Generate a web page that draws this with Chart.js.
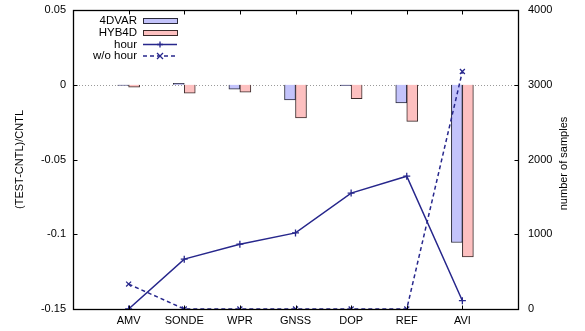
<!DOCTYPE html>
<html>
<head>
<meta charset="utf-8">
<script src="https://cdn.jsdelivr.net/npm/chart.js@4.4.1/dist/chart.umd.min.js"></script>
<style>
  html, body { margin: 0; padding: 0; background: #fff; }
  #chart { display: block; }
</style>
</head>
<body>
<canvas id="chart" width="585" height="331"></canvas>
<script>
// empty slots at both ends give the gnuplot-style margin
const categories = ['', 'AMV', 'SONDE', 'WPR', 'GNSS', 'DOP', 'REF', 'AVI', ''];
const var4d = [null, -0.0004, 0.0009, -0.003, -0.0101, -0.0006, -0.0122, -0.1055, null];
const hyb4d = [null, -0.0017, -0.0056, -0.0049, -0.0222, -0.0093, -0.0245, -0.1151, null];
const hourSamples = [null, 0, 667, 867, 1018, 1551, 1777, 111, null];
const noHourSamples = [null, 333, 0, 0, 0, 0, 0, 3177, null];
const leftTicks = [0.05, 0, -0.05, -0.1, -0.15];
const rightTicks = [0, 1000, 2000, 3000, 4000];

const FONT = 'Liberation Sans';
const NAVY = '#27278c';

const framePlugin = {
    id: 'frame',
    beforeDatasetsDraw(chart) {
        const { ctx, chartArea: a, scales } = chart;
        const y0 = Math.round(scales.y.getPixelForValue(0)) + 0.5;
        ctx.save();
        ctx.strokeStyle = '#9a9a9a';
        ctx.lineWidth = 1;
        ctx.setLineDash([1, 2]);
        ctx.beginPath();
        ctx.moveTo(a.left, y0);
        ctx.lineTo(a.right, y0);
        ctx.stroke();
        ctx.restore();
    },
    afterDraw(chart) {
        const { ctx, chartArea: a, scales } = chart;
        const L = Math.round(a.left) + 0.5, R = Math.round(a.right) + 0.5;
        const T = Math.round(a.top) + 0.5, B = Math.round(a.bottom) + 0.5;
        const tick = 4;
        ctx.save();
        ctx.strokeStyle = '#000';
        ctx.lineWidth = 1;

        // inward tick marks
        ctx.beginPath();
        for (let i = 1; i < categories.length - 1; i++) {
            const x = Math.round(scales.x.getPixelForValue(i)) + 0.5;
            ctx.moveTo(x, B); ctx.lineTo(x, B - tick);
            ctx.moveTo(x, T); ctx.lineTo(x, T + tick);
        }
        leftTicks.forEach(v => {
            const y = Math.round(scales.y.getPixelForValue(v)) + 0.5;
            ctx.moveTo(L, y); ctx.lineTo(L + tick, y);
        });
        rightTicks.forEach(v => {
            const y = Math.round(scales.y2.getPixelForValue(v)) + 0.5;
            ctx.moveTo(R, y); ctx.lineTo(R - tick, y);
        });
        ctx.stroke();

        ctx.lineWidth = 1.3;
        ctx.strokeRect(L, T, R - L, B - T);

        // axis titles
        ctx.fillStyle = '#000';
        ctx.font = `11px "${FONT}"`;
        ctx.textAlign = 'center';
        ctx.textBaseline = 'middle';
        const midY = (a.top + a.bottom) / 2;
        ctx.save();
        ctx.translate(20, midY);
        ctx.rotate(-Math.PI / 2);
        ctx.fillText('(TEST-CNTL)/CNTL', 0, 0);
        ctx.restore();
        ctx.save();
        ctx.translate(564, midY + 4);
        ctx.rotate(-Math.PI / 2);
        ctx.fillText('number of samples', 0, 0);
        ctx.restore();

        // legend, text right aligned with the sample on its right
        const ds = chart.data.datasets;
        const textRight = 137, sx0 = 143, sx1 = 177, rows = [21, 33, 44.5, 56];
        ctx.font = `11.5px "${FONT}"`;
        ctx.textAlign = 'right';
        ds.forEach((d, i) => {
            const y = rows[i];
            ctx.fillStyle = '#000';
            ctx.fillText(d.label, textRight, y);
            if (d.type === 'bar') {
                ctx.fillStyle = d.backgroundColor;
                ctx.fillRect(sx0, y - 2.5, sx1 - sx0, 5);
                ctx.strokeStyle = d.borderColor;
                ctx.lineWidth = 1;
                ctx.strokeRect(sx0 + 0.5, Math.round(y - 3) + 0.5, sx1 - sx0, 5);
            } else {
                ctx.strokeStyle = d.borderColor;
                ctx.lineWidth = d.borderWidth;
                ctx.setLineDash(d.borderDash || []);
                ctx.beginPath();
                ctx.moveTo(sx0, y); ctx.lineTo(sx1, y);
                ctx.stroke();
                ctx.setLineDash([]);
                const cx = (sx0 + sx1) / 2, r = 3;
                ctx.lineWidth = 1.3;
                ctx.beginPath();
                if (d.pointStyle === 'cross') {
                    ctx.moveTo(cx - r, y); ctx.lineTo(cx + r, y);
                    ctx.moveTo(cx, y - r); ctx.lineTo(cx, y + r);
                } else {
                    ctx.moveTo(cx - r, y - r); ctx.lineTo(cx + r, y + r);
                    ctx.moveTo(cx - r, y + r); ctx.lineTo(cx + r, y - r);
                }
                ctx.stroke();
            }
        });
        ctx.restore();
    }
};

// keep tick-label overflow from pushing the plot area around
function fixVertical(width) {
    return scale => {
        scale.width = width;
        scale.paddingTop = 0;
        scale.paddingBottom = 0;
    };
}

new Chart(document.getElementById('chart'), {
    data: {
        labels: categories,
        datasets: [
            {
                type: 'bar',
                label: '4DVAR',
                data: var4d,
                yAxisID: 'y',
                backgroundColor: '#c3c3fb',
                borderColor: '#2a2a3a',
                borderWidth: 1,
                barThickness: 11,
                order: 2
            },
            {
                type: 'bar',
                label: 'HYB4D',
                data: hyb4d,
                yAxisID: 'y',
                backgroundColor: '#fdc0c0',
                borderColor: '#3a2a2a',
                borderWidth: 1,
                barThickness: 11,
                order: 2
            },
            {
                type: 'line',
                label: 'hour',
                data: hourSamples,
                yAxisID: 'y2',
                borderColor: NAVY,
                backgroundColor: NAVY,
                borderWidth: 1.5,
                pointStyle: 'cross',
                pointRadius: 3.5,
                pointBorderWidth: 1.3,
                order: 1
            },
            {
                type: 'line',
                label: 'w/o hour',
                data: noHourSamples,
                yAxisID: 'y2',
                borderColor: NAVY,
                backgroundColor: NAVY,
                borderWidth: 1.5,
                borderDash: [4, 3],
                pointStyle: 'crossRot',
                pointRadius: 3.5,
                pointBorderWidth: 1.3,
                order: 0
            }
        ]
    },
    options: {
        responsive: false,
        animation: false,
        events: [],
        layout: { padding: { top: 10 } },
        plugins: {
            legend: { display: false },
            tooltip: { enabled: false }
        },
        scales: {
            x: {
                type: 'category',
                offset: false,
                grid: { display: false, drawTicks: false },
                border: { display: false },
                ticks: {
                    color: '#000',
                    font: { family: FONT, size: 11 },
                    padding: 5,
                    maxRotation: 0,
                    autoSkip: false
                },
                afterFit(scale) {
                    scale.height = 22;
                    scale.paddingLeft = 0;
                    scale.paddingRight = 0;
                }
            },
            y: {
                position: 'left',
                min: -0.15,
                max: 0.05,
                grid: { display: false, drawTicks: false },
                border: { display: false },
                afterBuildTicks(scale) { scale.ticks = leftTicks.map(v => ({ value: v })); },
                ticks: {
                    color: '#000',
                    font: { family: FONT, size: 11 },
                    padding: 7,
                    callback: v => String(v)
                },
                afterFit: fixVertical(73)
            },
            y2: {
                position: 'right',
                min: 0,
                max: 4000,
                grid: { display: false, drawTicks: false },
                border: { display: false },
                afterBuildTicks(scale) { scale.ticks = rightTicks.map(v => ({ value: v })); },
                ticks: {
                    color: '#000',
                    font: { family: FONT, size: 11 },
                    padding: 10,
                    callback: v => String(v)
                },
                afterFit: fixVertical(67)
            }
        }
    },
    plugins: [framePlugin]
});
</script>
</body>
</html>
